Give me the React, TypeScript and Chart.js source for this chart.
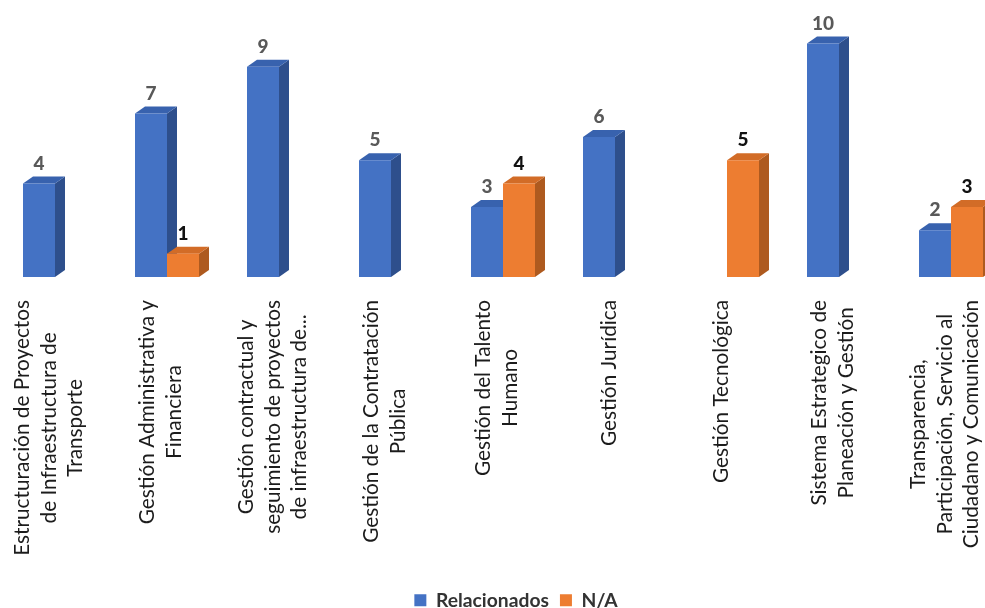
import React, { useEffect, useRef } from "react";
import { Chart, registerables } from "chart.js";

Chart.register(...registerables);

// ---------- data ----------
const categories: string[][] = [
  ["Estructuración de Proyectos", "de Infraestructura de", "Transporte"],
  ["Gestión Administrativa y", "Financiera"],
  ["Gestión contractual y", "seguimiento de proyectos", "de infraestructura de..."],
  ["Gestión de la Contratación", "Pública"],
  ["Gestión del Talento", "Humano"],
  ["Gestión Jurídica"],
  ["Gestión Tecnológica"],
  ["Sistema Estrategico de", "Planeación y Gestión"],
  ["Transparencia,", "Participación, Servicio al", "Ciudadano y Comunicación"],
];
const relacionados: (number | null)[] = [4, 7, 9, 5, 3, 6, null, 10, 2];
const noAplica: (number | null)[] = [null, 1, null, null, 4, null, 5, null, 3];
const seriesNames = ["Relacionados", "N/A"];
const yMin = 0;
const yMax = 10;

// ---------- style ----------
const FONT = "Lato, 'Liberation Sans', sans-serif";
const COLORS = [
  { front: "#4472C4", side: "#2E4F8C", top: "#3862AE", label: "#595959" },
  { front: "#ED7D31", side: "#AE5A1F", top: "#D26C27", label: "#111111" },
];
const DEPTH_X = 10;
const DEPTH_Y = 7;

function fitSize(text: string, weight: string, target: number): number {
  const c = document.createElement("canvas").getContext("2d")!;
  c.font = `${weight} 100px ${FONT}`;
  return (100 * target) / c.measureText(text).width;
}

const facesPlugin = {
  id: "faces3d",
  beforeDatasetsDraw(chart: any) {
    const ctx = chart.ctx;
    chart.data.datasets.forEach((ds: any, di: number) => {
      const meta = chart.getDatasetMeta(di);
      const col = COLORS[di];
      meta.data.forEach((el: any, i: number) => {
        if (ds.data[i] == null) return;
        const { x, y, base, width } = el.getProps(["x", "y", "base", "width"], true);
        const l = x - width / 2;
        const r = x + width / 2;
        ctx.save();
        ctx.fillStyle = col.side;
        ctx.beginPath();
        ctx.moveTo(r, y);
        ctx.lineTo(r + DEPTH_X, y - DEPTH_Y);
        ctx.lineTo(r + DEPTH_X, base - DEPTH_Y);
        ctx.lineTo(r, base);
        ctx.closePath();
        ctx.fill();
        ctx.fillStyle = col.top;
        ctx.beginPath();
        ctx.moveTo(l, y);
        ctx.lineTo(l + DEPTH_X, y - DEPTH_Y);
        ctx.lineTo(r + DEPTH_X, y - DEPTH_Y);
        ctx.lineTo(r, y);
        ctx.closePath();
        ctx.fill();
        ctx.restore();
      });
    });
  },
};

function makeValuePlugin(size: number) {
  return {
    id: "values",
    afterDatasetsDraw(chart: any) {
      const ctx = chart.ctx;
      chart.data.datasets.forEach((ds: any, di: number) => {
        const meta = chart.getDatasetMeta(di);
        meta.data.forEach((el: any, i: number) => {
          const v = ds.data[i];
          if (v == null) return;
          const { x, y } = el.getProps(["x", "y"], true);
          ctx.save();
          ctx.font = `900 ${size}px ${FONT}`;
          ctx.fillStyle = COLORS[di].label;
          ctx.textAlign = "center";
          ctx.textBaseline = "alphabetic";
          ctx.fillText(String(v), x, y - 14);
          ctx.restore();
        });
      });
    },
  };
}

function makeCatPlugin(size: number) {
  return {
    id: "catLabels",
    afterDraw(chart: any) {
      const ctx = chart.ctx;
      const xs = chart.scales.x;
      ctx.save();
      ctx.font = `${size}px ${FONT}`;
      ctx.fillStyle = "#1c1c1c";
      chart.data.labels.forEach((lab: any, i: number) => {
        const lines: string[] = Array.isArray(lab) ? lab : [lab];
        const cx = xs.getPixelForValue(i) - 6;
        const maxW = Math.max(...lines.map((l) => ctx.measureText(l).width));
        const cy = chart.chartArea.bottom + 23 + maxW / 2;
        lines.forEach((line, j) => {
          const lx = cx + (j - (lines.length - 1) / 2) * 26.5;
          ctx.save();
          ctx.translate(lx, cy);
          ctx.rotate(-Math.PI / 2);
          ctx.textAlign = "center";
          ctx.textBaseline = "middle";
          ctx.fillText(line, 0, 0);
          ctx.restore();
        });
      });
      ctx.restore();
    },
  };
}

const CANVAS_W = 1034;
const PLOT_BOTTOM = 277;

export default function App() {
  const ref = useRef<HTMLCanvasElement>(null);
  const legendSize = fitSize("Relacionados", "bold", 113);
  const canvasH = Math.round(610 + legendSize / 2);

  useEffect(() => {
    const catSize = fitSize("Gestión Jurídica", "normal", 146);
    const valueSize = 19;
    const legendPad = 11;
    const legendH = legendSize + legendPad + 10;
    const chart = new Chart(ref.current!, {
      type: "bar",
      data: {
        labels: categories,
        datasets: [
          {
            label: seriesNames[0],
            data: relacionados,
            backgroundColor: COLORS[0].front,
            categoryPercentage: 0.5714,
            barPercentage: 1,
            clip: false,
          } as any,
          {
            label: seriesNames[1],
            data: noAplica,
            backgroundColor: COLORS[1].front,
            categoryPercentage: 0.5714,
            barPercentage: 1,
            clip: false,
          } as any,
        ],
      },
      options: {
        animation: false,
        responsive: false,
        maintainAspectRatio: false,
        layout: { padding: { top: 43.5, left: 0, right: 0, bottom: 0 } },
        plugins: {
          legend: {
            position: "bottom",
            labels: {
              font: { family: FONT, size: legendSize, weight: "bold" },
              color: "#333333",
              boxWidth: 12,
              boxHeight: 12,
              padding: legendPad,
            },
          },
          tooltip: { enabled: false },
        },
        scales: {
          x: {
            grid: { display: false },
            border: { display: false },
            ticks: { display: false },
            afterFit: (s: any) => {
              s.height = canvasH - legendH - PLOT_BOTTOM;
            },
          },
          y: {
            position: "right",
            min: yMin,
            max: yMax,
            grid: { display: false },
            border: { display: false },
            ticks: { display: false },
            afterFit: (s: any) => {
              s.width = 26;
            },
          },
        },
      } as any,
      plugins: [facesPlugin, makeValuePlugin(valueSize), makeCatPlugin(catSize)],
    });
    return () => chart.destroy();
  }, []);

  return (
    <div
      style={{
        position: "fixed",
        left: 0,
        top: 0,
        width: 985,
        height: 608,
        overflow: "hidden",
        background: "#ffffff",
      }}
    >
      <canvas
        ref={ref}
        width={CANVAS_W}
        height={canvasH}
        style={{ position: "absolute", left: -1, top: 0, width: CANVAS_W, height: canvasH }}
      />
    </div>
  );
}
